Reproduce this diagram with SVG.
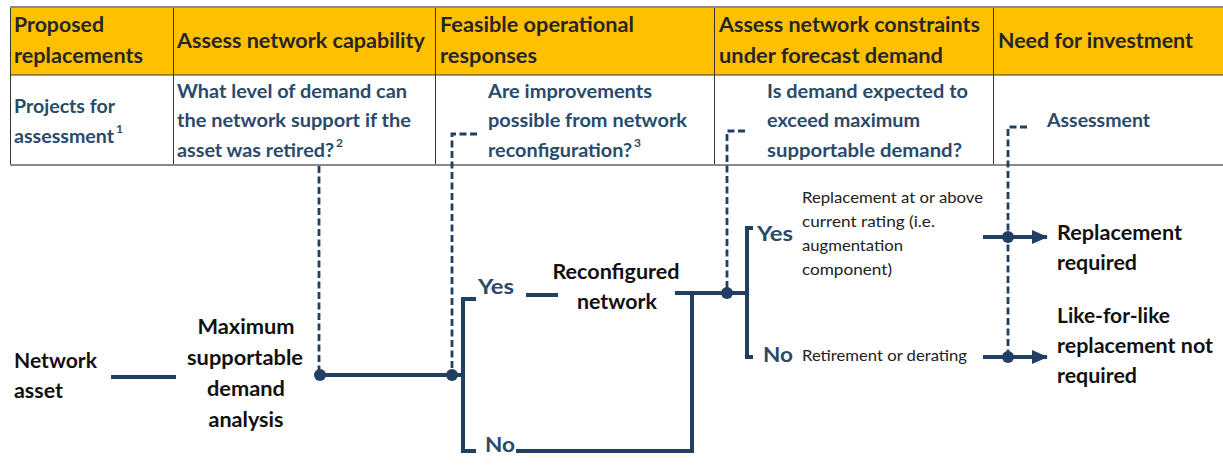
<svg xmlns="http://www.w3.org/2000/svg" width="1223" height="476" viewBox="0 0 1223 476">
<style>
text { font-family: Lato, "Liberation Sans", sans-serif; }
.hd { font-weight: bold; font-size: 20px; fill: #262626; }
.q { font-weight: bold; font-size: 19px; fill: #2a4a6c; }
.sup { font-weight: bold; font-size: 12px; fill: #2a4a6c; }
.bk { font-weight: bold; font-size: 20.5px; fill: #111; }
.yn { font-weight: bold; font-size: 21px; fill: #2a4a6c; }
.sm { font-size: 16px; fill: #222; }
.mid { text-anchor: middle; }
.solid { stroke: #213f62; stroke-width: 4; fill: none; }
.dash { stroke: #213f62; stroke-width: 2.8; fill: none; stroke-dasharray: 7 3.5; }
.dot { fill: #213f62; }
.grid { stroke: #333; stroke-width: 1; }
.outer { stroke: #8a8a8a; stroke-width: 2; }
</style>
<defs>
<marker id="arr" markerWidth="16" markerHeight="14" refX="15" refY="7" orient="auto" markerUnits="userSpaceOnUse">
<path d="M0,0 L16,7 L0,14 Z" fill="#213f62"/>
</marker>
</defs>

<g id="table">
<rect x="10" y="7" width="1213" height="68" fill="#FFC000"/>
<rect x="10" y="75" width="1213" height="90" fill="#fff"/>
<line class="grid" x1="10" y1="75" x2="1223" y2="75"/>
<line class="grid" x1="10.5" y1="7" x2="10.5" y2="165"/>
<line class="grid" x1="173.5" y1="7" x2="173.5" y2="165"/>
<line class="grid" x1="435.5" y1="7" x2="435.5" y2="165"/>
<line class="grid" x1="714.5" y1="7" x2="714.5" y2="165"/>
<line class="grid" x1="993.5" y1="7" x2="993.5" y2="165"/>
<line class="outer" x1="10" y1="7" x2="1223" y2="7"/>
<line class="outer" x1="10" y1="165" x2="1223" y2="165"/>
</g>

<g id="col-proposed">
<text class="hd" x="14" y="32" textLength="90" lengthAdjust="spacingAndGlyphs">Proposed</text>
<text class="hd" x="14" y="63" textLength="129" lengthAdjust="spacingAndGlyphs">replacements</text>
<text class="q" x="14" y="113" textLength="101" lengthAdjust="spacingAndGlyphs">Projects for</text>
<text class="q" x="14" y="143" textLength="100" lengthAdjust="spacingAndGlyphs">assessment</text>
<text class="sup" x="116" y="133">1</text>
</g>

<g id="col-capability">
<text class="hd" x="177" y="48" textLength="248" lengthAdjust="spacingAndGlyphs">Assess network capability</text>
<text class="q" x="177" y="98" textLength="230" lengthAdjust="spacingAndGlyphs">What level of demand can</text>
<text class="q" x="177" y="127" textLength="234" lengthAdjust="spacingAndGlyphs">the network support if the</text>
<text class="q" x="177" y="157" textLength="157" lengthAdjust="spacingAndGlyphs">asset was retired?</text>
<text class="sup" x="336" y="147">2</text>
</g>

<g id="col-feasible">
<text class="hd" x="440" y="32" textLength="194" lengthAdjust="spacingAndGlyphs">Feasible operational</text>
<text class="hd" x="440" y="63" textLength="97" lengthAdjust="spacingAndGlyphs">responses</text>
<text class="q" x="488" y="98" textLength="164" lengthAdjust="spacingAndGlyphs">Are improvements</text>
<text class="q" x="488" y="127" textLength="199" lengthAdjust="spacingAndGlyphs">possible from network</text>
<text class="q" x="488" y="157" textLength="144" lengthAdjust="spacingAndGlyphs">reconfiguration?</text>
<text class="sup" x="634" y="147">3</text>
</g>

<g id="col-constraints">
<text class="hd" x="719" y="32" textLength="261" lengthAdjust="spacingAndGlyphs">Assess network constraints</text>
<text class="hd" x="719" y="63" textLength="224" lengthAdjust="spacingAndGlyphs">under forecast demand</text>
<text class="q" x="767" y="98" textLength="201" lengthAdjust="spacingAndGlyphs">Is demand expected to</text>
<text class="q" x="767" y="127" textLength="153" lengthAdjust="spacingAndGlyphs">exceed maximum</text>
<text class="q" x="767" y="157" textLength="195" lengthAdjust="spacingAndGlyphs">supportable demand?</text>
</g>

<g id="col-investment">
<text class="hd" x="998" y="48" textLength="195" lengthAdjust="spacingAndGlyphs">Need for investment</text>
<text class="q" x="1047" y="127" textLength="103" lengthAdjust="spacingAndGlyphs">Assessment</text>
</g>

<g id="connectors">
<path class="dash" d="M319,166 V373"/>
<path class="dash" d="M477,134 H452 V373"/>
<path class="dash" d="M745,131 H727 V291"/>
<path class="dash" d="M1027,127 H1008 V355"/>
<path class="solid" d="M111,377 H176"/>
<path class="solid" d="M320,375 H463"/>
<path class="solid" d="M476,299 H463 V451 H476"/>
<path class="solid" d="M516,451 H692 V293"/>
<path class="solid" d="M526,295 H558"/>
<path class="solid" d="M675,293 H747"/>
<path class="solid" d="M753,228 H747 V357 H753"/>
<path class="solid" d="M983,237 H1047" marker-end="url(#arr)"/>
<path class="solid" d="M983,357 H1047" marker-end="url(#arr)"/>
<circle class="dot" cx="320" cy="375" r="6"/>
<circle class="dot" cx="452" cy="375" r="6"/>
<circle class="dot" cx="727" cy="293" r="6"/>
<circle class="dot" cx="1008" cy="237" r="6"/>
<circle class="dot" cx="1008" cy="357" r="6"/>
</g>

<g id="network-asset">
<text class="bk" x="14" y="368" textLength="83" lengthAdjust="spacingAndGlyphs">Network</text>
<text class="bk" x="14" y="398" textLength="49" lengthAdjust="spacingAndGlyphs">asset</text>
</g>

<g id="max-demand">
<text class="bk mid" x="246" y="334" textLength="97" lengthAdjust="spacingAndGlyphs">Maximum</text>
<text class="bk mid" x="245" y="365" textLength="116" lengthAdjust="spacingAndGlyphs">supportable</text>
<text class="bk mid" x="246" y="396" textLength="78" lengthAdjust="spacingAndGlyphs">demand</text>
<text class="bk mid" x="246" y="427" textLength="75" lengthAdjust="spacingAndGlyphs">analysis</text>
</g>

<g id="yes-1"><text class="yn" x="478" y="294" textLength="36" lengthAdjust="spacingAndGlyphs">Yes</text></g>
<g id="no-1"><text class="yn" x="485" y="452" textLength="30" lengthAdjust="spacingAndGlyphs">No</text></g>

<g id="reconfigured">
<text class="bk mid" x="616" y="279" textLength="127" lengthAdjust="spacingAndGlyphs">Reconfigured</text>
<text class="bk mid" x="617" y="309" textLength="80" lengthAdjust="spacingAndGlyphs">network</text>
</g>

<g id="yes-2">
<text class="yn" x="757" y="241" textLength="36" lengthAdjust="spacingAndGlyphs">Yes</text>
<text class="sm" x="802" y="203" textLength="181" lengthAdjust="spacingAndGlyphs">Replacement at or above</text>
<text class="sm" x="802" y="227" textLength="133" lengthAdjust="spacingAndGlyphs">current rating (i.e.</text>
<text class="sm" x="802" y="251" textLength="101" lengthAdjust="spacingAndGlyphs">augmentation</text>
<text class="sm" x="802" y="275" textLength="90" lengthAdjust="spacingAndGlyphs">component)</text>
</g>

<g id="no-2">
<text class="yn" x="763" y="362" textLength="30" lengthAdjust="spacingAndGlyphs">No</text>
<text class="sm" x="802" y="361" textLength="165" lengthAdjust="spacingAndGlyphs">Retirement or derating</text>
</g>

<g id="replacement-required">
<text class="bk" x="1057" y="240" textLength="125" lengthAdjust="spacingAndGlyphs">Replacement</text>
<text class="bk" x="1057" y="270" textLength="80" lengthAdjust="spacingAndGlyphs">required</text>
</g>

<g id="not-required">
<text class="bk" x="1057" y="323" textLength="113" lengthAdjust="spacingAndGlyphs">Like-for-like</text>
<text class="bk" x="1057" y="353" textLength="156" lengthAdjust="spacingAndGlyphs">replacement not</text>
<text class="bk" x="1057" y="383" textLength="80" lengthAdjust="spacingAndGlyphs">required</text>
</g>
</svg>
